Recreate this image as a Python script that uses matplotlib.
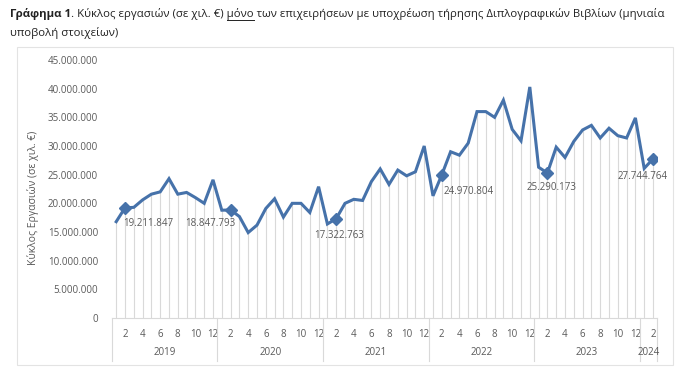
import matplotlib.pyplot as plt
from matplotlib.patches import Rectangle
from matplotlib.ticker import FuncFormatter
from matplotlib.lines import Line2D

plt.rcParams['font.family'] = ['Open Sans', 'DejaVu Sans']

# Κύκλος εργασιών ανά μήνα (εκατ. €), Ιαν 2019 - Φεβ 2024
years = ['2019', '2020', '2021', '2022', '2023', '2024']
v2019 = [16.8, 19.211847, 19.3, 20.6, 21.6, 22.0, 24.3, 21.6, 21.9, 21.0, 20.0, 24.1]
v2020 = [18.8, 18.847793, 17.7, 14.9, 16.2, 19.1, 20.8, 17.6, 20.0, 20.0, 18.4, 22.9]
v2021 = [16.4, 17.322763, 20.0, 20.7, 20.5, 23.8, 26.0, 23.3, 25.8, 24.8, 25.5, 30.0]
v2022 = [21.3, 24.970804, 29.0, 28.4, 30.5, 36.0, 36.0, 35.0, 38.0, 32.9, 30.9, 40.3]
v2023 = [26.3, 25.290173, 29.8, 28.0, 30.8, 32.8, 33.6, 31.4, 33.1, 31.8, 31.4, 34.9]
v2024 = [26.1, 27.744764]
values = [v * 1e6 for v in v2019 + v2020 + v2021 + v2022 + v2023 + v2024]
year_lengths = [12, 12, 12, 12, 12, 2]

# σημεία με ετικέτα (Φεβρουάριος κάθε έτους) και μετατόπιση ετικέτας σε pixels
label_idx = [1, 13, 25, 37, 49, 61]
label_offsets = [(23, -16), (-20, -14), (3, -17), (27, -17), (4, -14), (-10, -18)]

grey = '#595959'
blue = '#4672AA'

def fmt(v):
    return f"{v:,.0f}".replace(',', '.')

fig = plt.figure(figsize=(7, 3.72), dpi=100)
ax = fig.add_axes([111.8 / 700, 1 - 318 / 372, 545.6 / 700, 258 / 372])

x = list(range(len(values)))
ax.vlines(x, 0, values, color='#d9d9d9', linewidth=0.8, zorder=1)
ax.plot(x, values, color=blue, linewidth=2.2, zorder=3, solid_joinstyle='miter')
ax.plot([x[i] for i in label_idx], [values[i] for i in label_idx], linestyle='none',
        marker='D', markersize=6, color=blue, zorder=4)
for i, (dx, dy) in zip(label_idx, label_offsets):
    ax.annotate(fmt(values[i]), (x[i], values[i]), xytext=(dx, dy), textcoords='offset pixels',
                ha='center', va='center', fontsize=7, color=grey, zorder=5)

ax.set_xlim(-0.5, len(values) - 0.5)
ax.set_ylim(0, 45e6)
ax.set_yticks([i * 5e6 for i in range(10)])
ax.yaxis.set_major_formatter(FuncFormatter(lambda v, p: fmt(v)))
ax.tick_params(axis='y', length=0, pad=10, labelsize=7, labelcolor=grey)

# μήνες (ζυγοί) στον άξονα x
ticks, tlabels = [], []
start = 0
for n in year_lengths:
    for m in range(2, n + 1, 2):
        ticks.append(start + m - 1)
        tlabels.append(str(m))
    start += n
ax.set_xticks(ticks)
ax.set_xticklabels(tlabels)
ax.tick_params(axis='x', length=0, pad=8, labelsize=7, labelcolor=grey)

for s in ['top', 'right', 'left']:
    ax.spines[s].set_visible(False)
ax.spines['bottom'].set_color('#d9d9d9')

# έτη και διαχωριστικά
trans = ax.get_xaxis_transform()
start = 0
bounds = [-0.5]
for yr, n in zip(years, year_lengths):
    ax.text(start + (n - 1) / 2, -0.132, yr, transform=trans, ha='center', va='center',
            fontsize=7, color=grey)
    start += n
    bounds.append(start - 0.5)
for b in bounds:
    ax.plot([b, b], [0, -0.165], transform=trans, color='#d9d9d9', linewidth=0.8, clip_on=False)

ax.set_ylabel('Κύκλος Εργασιών (σε χιλ. €)', fontsize=7.5, color=grey)
ax.yaxis.set_label_coords(-(111.8 - 39) / 545.6, (318 - 198) / 258)

# πλαίσιο γραφήματος
fig.patches.append(Rectangle((17 / 700, 1 - 365 / 372), (673 - 17) / 700, (365 - 47) / 372,
                             transform=fig.transFigure, fill=False, edgecolor='#e3e3e3',
                             linewidth=0.8))

# τίτλος
renderer = fig.canvas.get_renderer()
tsize = 8.2
tx, ty = 10 / 700, 1 - 14 / 372
t1 = fig.text(tx, ty, 'Γράφημα 1', fontsize=tsize, fontweight='bold', color='#222222', va='center')
bb = t1.get_window_extent(renderer)
x2 = bb.x1 / fig.bbox.width
prefix = '. Κύκλος εργασιών (σε χιλ. €) '
rest = prefix + 'μόνο των επιχειρήσεων με υποχρέωση τήρησης Διπλογραφικών Βιβλίων (μηνιαία'
t2 = fig.text(x2, ty, rest, fontsize=tsize, color='#222222', va='center')
m1 = fig.text(0, 0, prefix + 'μόνο', fontsize=tsize)
m2 = fig.text(0, 0, 'μόνο', fontsize=tsize)
w1 = m1.get_window_extent(renderer).width / fig.bbox.width
w2 = m2.get_window_extent(renderer).width / fig.bbox.width
m1.remove()
m2.remove()
uy = ty - 6 / 372
fig.lines.append(Line2D([x2 + w1 - w2, x2 + w1], [uy, uy], transform=fig.transFigure,
                        color='#222222', linewidth=0.7))
fig.text(tx, 1 - 33 / 372, 'υποβολή στοιχείων)', fontsize=tsize, color='#222222', va='center')

fig.savefig('out.png', dpi=100, facecolor='white')
